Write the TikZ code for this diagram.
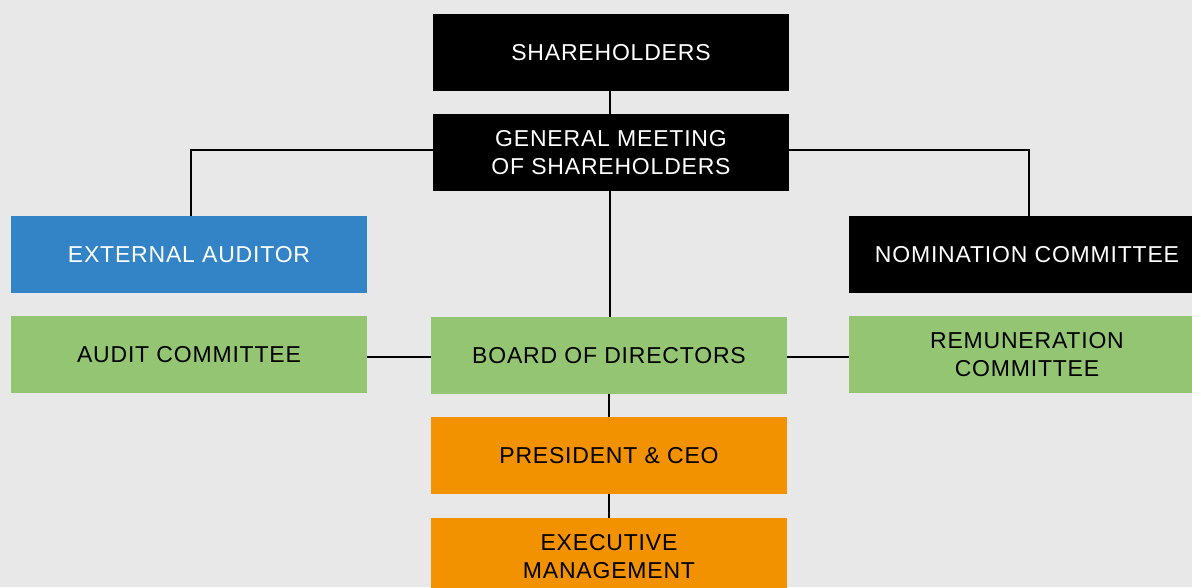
\documentclass[tikz,border=0pt]{standalone}
\usepackage{fontspec}
\setmainfont[LetterSpace=3.5]{Liberation Sans}
\definecolor{bg}{HTML}{E8E8E8}
\definecolor{cblue}{HTML}{3384C6}
\definecolor{cgreen}{HTML}{93C572}
\definecolor{corange}{HTML}{F39200}
\begin{document}
\begin{tikzpicture}[x=1pt,y=-1pt,
  box/.style={rectangle,minimum width=356pt,minimum height=77pt,inner sep=0pt,align=center,
    font=\fontsize{23}{28.5}\selectfont},
  darkbox/.style={box,fill=black,text=white},
  bluebox/.style={box,fill=cblue,text=white},
  greenbox/.style={box,fill=cgreen,text=black},
  orangebox/.style={box,fill=corange,text=black},
  conn/.style={line width=2.2pt,draw=black}]
\fill[bg] (0,0) rectangle (1192,587);
\useasboundingbox (0,0) rectangle (1192,587);
\clip (0,0) rectangle (1192,587);
\node[darkbox] (sh) at (611,52.5) {SHAREHOLDERS};
\node[darkbox] (gm) at (611,152.5) {GENERAL MEETING\\OF SHAREHOLDERS};
\node[bluebox] (ea) at (189,254.5) {EXTERNAL AUDITOR};
\node[darkbox] (nc) at (1027,254.5) {NOMINATION COMMITTEE};
\node[greenbox] (ac) at (189,354.5) {AUDIT COMMITTEE};
\node[greenbox] (bd) at (609,355.5) {BOARD OF DIRECTORS};
\node[greenbox] (rc) at (1027,354.5) {REMUNERATION\\COMMITTEE};
\node[orangebox] (pc) at (609,455.5) {PRESIDENT \& CEO};
\node[orangebox] (em) at (609,556.5) {EXECUTIVE\\MANAGEMENT};
\draw[conn] (610,0 |- sh.south) -- (610,0 |- gm.north);
\draw[conn] (gm.west |- 0,150) -| (ea.north -| 191,0);
\draw[conn] (gm.east |- 0,150) -| (nc.north -| 1029,0);
\draw[conn] (610,0 |- gm.south) -- (610,0 |- bd.north);
\draw[conn] (ac.east |- 0,357) -- (bd.west |- 0,357);
\draw[conn] (bd.east |- 0,357) -- (rc.west |- 0,357);
\draw[conn] (bd.south) -- (pc.north);
\draw[conn] (pc.south) -- (em.north);
\end{tikzpicture}
\end{document}
